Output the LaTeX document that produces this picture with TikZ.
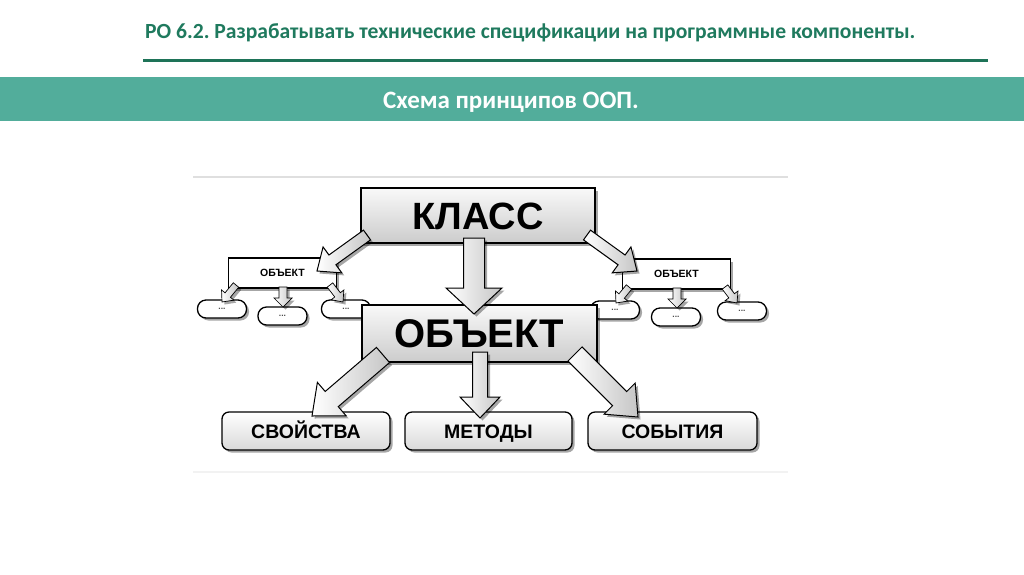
\documentclass[tikz,border=0pt]{standalone}
\usepackage{fontspec}
\setmainfont{Carlito}
\newfontfamily\diag{Liberation Sans}
\usetikzlibrary{calc,shadows}
\frenchspacing
\definecolor{titlegreen}{HTML}{1F7A5E}
\definecolor{bannergreen}{HTML}{52AD9B}
\definecolor{rulegreen}{HTML}{1E7358}
\tikzset{
  shad/.style={drop shadow={shadow xshift=2.5pt,shadow yshift=-2.5pt,fill=black,opacity=0.35}},
  bigbox/.style={draw=black,line width=1.3pt,top color=gray!5,bottom color=gray!40,shad,inner sep=0pt,
    text height=28pt,text depth=0pt},
  leafbox/.style={draw=black,line width=1.3pt,rounded corners=7pt,top color=white,bottom color=gray!30,shad,inner sep=0pt,
    minimum height=38pt,text height=14pt,text depth=0pt,font=\diag\bfseries\fontsize{19.5}{22}\selectfont},
  smallbox/.style={draw=black,line width=1.3pt,fill=white,shad,inner sep=0pt,minimum width=108pt,minimum height=30pt,
    font=\diag\bfseries\fontsize{10.5}{12}\selectfont},
  pill/.style={draw=black,line width=1.3pt,fill=white,rounded corners=8.5pt,shad,inner sep=0pt,minimum width=49pt,minimum height=18pt,
    font=\diag\bfseries\fontsize{8.5}{9}\selectfont,text=gray!60!black},
  arrowbody/.style={draw=black,line width=1pt,left color=white,right color=gray!45,shad,line join=miter},
  grayrule/.style={line width=2pt,draw=gray!25}
}
% #1 extra style, #2 tail, #3 tip, #4 shaft half width, #5 head half width, #6 head length
\newcommand\blockarrow[6][]{%
  \coordinate (ba-base) at ($(#3)!#6!(#2)$);
  \path[arrowbody,#1] ($(#2)!#4!90:(#3)$) -- ($(ba-base)!#4!90:(#3)$) -- ($(ba-base)!#5!90:(#3)$)
     -- (#3) -- ($(ba-base)!#5!-90:(#3)$) -- ($(ba-base)!#4!-90:(#3)$) -- ($(#2)!#4!-90:(#3)$) -- cycle;
}
\begin{document}
\begin{tikzpicture}[x=1pt,y=-1pt]
\useasboundingbox[fill=white] (0,0) rectangle (1024,574);
% header
\node[anchor=base west,text=titlegreen,font=\bfseries\fontsize{21.6}{24}\selectfont,inner sep=0pt] (title) at (145,38)
  {РО 6.2. Разрабатывать технические спецификации на программные компоненты.};
\draw[rulegreen,line width=3pt] (143,60) -- (988,60);
\fill[bannergreen] (0,77) rectangle (1024,121);
\node[anchor=base,text=white,font=\bfseries\fontsize{25}{28}\selectfont,inner sep=0pt] (banner) at (511,108) {Схема принципов ООП.};
% frame lines
\draw[grayrule] (193,177) -- (788,177);
\draw[line width=1.5pt,draw=gray!10] (193,472) -- (788,472);
% small object groups
\node[pill] (e1) at (222,309) {...};
\node[pill] (e2) at (282.5,316) {...};
\node[pill] (e3) at (346,309) {...};
\node[pill] (e4) at (615,310) {...};
\node[pill] (e5) at (676,317) {...};
\node[pill] (e6) at (742,311) {...};
\node[smallbox] (objL) at (282.5,273) {ОБЪЕКТ};
\node[smallbox] (objR) at (676.5,274) {ОБЪЕКТ};
% main boxes
\node[bigbox,minimum width=234pt,minimum height=55pt,font=\diag\bfseries\fontsize{38}{40}\selectfont,text height=27pt] (class) at (478,215.5) {КЛАСС};
\node[bigbox,minimum width=235pt,minimum height=57pt,font=\diag\bfseries\fontsize{40}{42}\selectfont,text height=28.5pt] (obj) at (479.5,333.5) {ОБЪЕКТ};
\node[leafbox,minimum width=168pt] (props) at (306,431) {СВОЙСТВА};
\node[leafbox,minimum width=167pt] (meth) at (488.5,431) {МЕТОДЫ};
\node[leafbox,minimum width=169pt] (events) at (672.5,431) {СОБЫТИЯ};
% arrow end coordinates
\coordinate (c1a) at (367,235);  \coordinate (c1b) at (317,271);
\coordinate (c2a) at (474,238);  \coordinate (c2b) at (474,314);
\coordinate (c3a) at (587,235);  \coordinate (c3b) at (637,271);
\coordinate (o1a) at (383,355);  \coordinate (o1b) at (312,416);
\coordinate (o2a) at (480,352);  \coordinate (o2b) at (480,418);
\coordinate (o3a) at (575,354);  \coordinate (o3b) at (638,417);
\coordinate (l1a) at (236,285);  \coordinate (l1b) at (222,302);
\coordinate (l2a) at (283,287);  \coordinate (l2b) at (283,307);
\coordinate (l3a) at (330,285);  \coordinate (l3b) at (343,302);
\coordinate (r1a) at (629,287);  \coordinate (r1b) at (616,303);
\coordinate (r2a) at (677,288);  \coordinate (r2b) at (677,308);
\coordinate (r3a) at (725,287);  \coordinate (r3b) at (737,303);
% arrows from class
\blockarrow{c1a}{c1b}{6pt}{16pt}{19pt}
\blockarrow{c2a}{c2b}{10.5pt}{28pt}{26pt}
\blockarrow{c3a}{c3b}{6pt}{16pt}{19pt}
% arrows from object
\blockarrow{o1a}{o1b}{10pt}{22pt}{26pt}
\blockarrow{o2a}{o2b}{7.5pt}{20pt}{21pt}
\blockarrow{o3a}{o3b}{10pt}{22pt}{26pt}
% small arrows
\blockarrow[line width=0.7pt]{l1a}{l1b}{3.5pt}{8pt}{9pt}
\blockarrow[line width=0.7pt]{l2a}{l2b}{4pt}{9pt}{9pt}
\blockarrow[line width=0.7pt]{l3a}{l3b}{3.5pt}{8pt}{9pt}
\blockarrow[line width=0.7pt]{r1a}{r1b}{3.5pt}{8pt}{9pt}
\blockarrow[line width=0.7pt]{r2a}{r2b}{4pt}{9pt}{9pt}
\blockarrow[line width=0.7pt]{r3a}{r3b}{3.5pt}{8pt}{9pt}
\end{tikzpicture}
\end{document}
